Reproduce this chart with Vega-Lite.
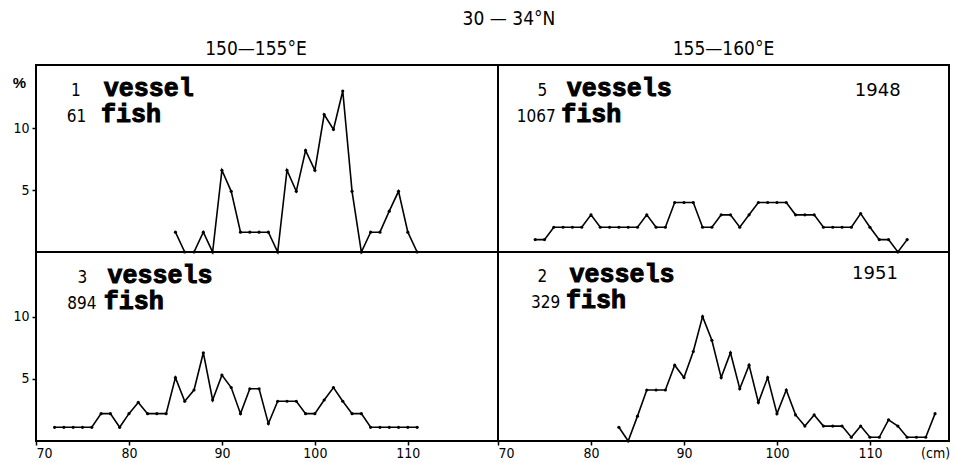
{
  "$schema": "https://vega.github.io/schema/vega-lite/v6.json",
  "background": "white",
  "padding": {"left": 11, "top": 10, "right": 0, "bottom": 0},
  "title": {"text": "30 — 34°N", "font": "DejaVu Sans Condensed", "fontSize": 19, "fontWeight": "normal", "color": "black", "anchor": "middle", "offset": 10, "dx": 28},
  "datasets": {
    "d1": [
      {"len": 85, "pct": 1.6}, {"len": 86, "pct": 0}, {"len": 87, "pct": 0}, {"len": 88, "pct": 1.6}, {"len": 89, "pct": 0},
      {"len": 90, "pct": 6.6}, {"len": 91, "pct": 4.9}, {"len": 92, "pct": 1.6}, {"len": 93, "pct": 1.6}, {"len": 94, "pct": 1.6},
      {"len": 95, "pct": 1.6}, {"len": 96, "pct": 0}, {"len": 97, "pct": 6.6}, {"len": 98, "pct": 4.9}, {"len": 99, "pct": 8.2},
      {"len": 100, "pct": 6.6}, {"len": 101, "pct": 11.1}, {"len": 102, "pct": 9.9}, {"len": 103, "pct": 13.0}, {"len": 104, "pct": 4.9},
      {"len": 105, "pct": 0}, {"len": 106, "pct": 1.6}, {"len": 107, "pct": 1.6}, {"len": 108, "pct": 3.3}, {"len": 109, "pct": 4.9},
      {"len": 110, "pct": 1.6}, {"len": 111, "pct": 0}
    ],
    "d2": [
      {"len": 74, "pct": 1.0}, {"len": 75, "pct": 1.0}, {"len": 76, "pct": 2.0}, {"len": 77, "pct": 2.0}, {"len": 78, "pct": 2.0},
      {"len": 79, "pct": 2.0}, {"len": 80, "pct": 3.0}, {"len": 81, "pct": 2.0}, {"len": 82, "pct": 2.0}, {"len": 83, "pct": 2.0},
      {"len": 84, "pct": 2.0}, {"len": 85, "pct": 2.0}, {"len": 86, "pct": 3.0}, {"len": 87, "pct": 2.0}, {"len": 88, "pct": 2.0},
      {"len": 89, "pct": 4.0}, {"len": 90, "pct": 4.0}, {"len": 91, "pct": 4.0}, {"len": 92, "pct": 2.0}, {"len": 93, "pct": 2.0},
      {"len": 94, "pct": 3.0}, {"len": 95, "pct": 3.0}, {"len": 96, "pct": 2.0}, {"len": 97, "pct": 3.0}, {"len": 98, "pct": 4.0},
      {"len": 99, "pct": 4.0}, {"len": 100, "pct": 4.0}, {"len": 101, "pct": 4.0}, {"len": 102, "pct": 3.0}, {"len": 103, "pct": 3.0},
      {"len": 104, "pct": 3.0}, {"len": 105, "pct": 2.0}, {"len": 106, "pct": 2.0}, {"len": 107, "pct": 2.0}, {"len": 108, "pct": 2.0},
      {"len": 109, "pct": 3.1}, {"len": 110, "pct": 2.0}, {"len": 111, "pct": 1.0}, {"len": 112, "pct": 1.0}, {"len": 113, "pct": 0},
      {"len": 114, "pct": 1.0}
    ],
    "d3": [
      {"len": 72, "pct": 1.1}, {"len": 73, "pct": 1.1}, {"len": 74, "pct": 1.1}, {"len": 75, "pct": 1.1}, {"len": 76, "pct": 1.1},
      {"len": 77, "pct": 2.2}, {"len": 78, "pct": 2.2}, {"len": 79, "pct": 1.1}, {"len": 80, "pct": 2.2}, {"len": 81, "pct": 3.1},
      {"len": 82, "pct": 2.2}, {"len": 83, "pct": 2.2}, {"len": 84, "pct": 2.2}, {"len": 85, "pct": 5.1}, {"len": 86, "pct": 3.2},
      {"len": 87, "pct": 4.1}, {"len": 88, "pct": 7.1}, {"len": 89, "pct": 3.3}, {"len": 90, "pct": 5.3}, {"len": 91, "pct": 4.3},
      {"len": 92, "pct": 2.2}, {"len": 93, "pct": 4.2}, {"len": 94, "pct": 4.2}, {"len": 95, "pct": 1.4}, {"len": 96, "pct": 3.2},
      {"len": 97, "pct": 3.2}, {"len": 98, "pct": 3.2}, {"len": 99, "pct": 2.2}, {"len": 100, "pct": 2.2}, {"len": 101, "pct": 3.3},
      {"len": 102, "pct": 4.3}, {"len": 103, "pct": 3.2}, {"len": 104, "pct": 2.2}, {"len": 105, "pct": 2.2}, {"len": 106, "pct": 1.1},
      {"len": 107, "pct": 1.1}, {"len": 108, "pct": 1.1}, {"len": 109, "pct": 1.1}, {"len": 110, "pct": 1.1}, {"len": 111, "pct": 1.1}
    ],
    "d4": [
      {"len": 83, "pct": 1.1}, {"len": 84, "pct": 0}, {"len": 85, "pct": 2.0}, {"len": 86, "pct": 4.1}, {"len": 87, "pct": 4.1},
      {"len": 88, "pct": 4.1}, {"len": 89, "pct": 6.1}, {"len": 90, "pct": 5.1}, {"len": 91, "pct": 7.2}, {"len": 92, "pct": 10.0},
      {"len": 93, "pct": 8.1}, {"len": 94, "pct": 5.1}, {"len": 95, "pct": 7.1}, {"len": 96, "pct": 4.2}, {"len": 97, "pct": 6.1},
      {"len": 98, "pct": 3.1}, {"len": 99, "pct": 5.1}, {"len": 100, "pct": 2.2}, {"len": 101, "pct": 4.1}, {"len": 102, "pct": 2.1},
      {"len": 103, "pct": 1.2}, {"len": 104, "pct": 2.1}, {"len": 105, "pct": 1.2}, {"len": 106, "pct": 1.2}, {"len": 107, "pct": 1.2},
      {"len": 108, "pct": 0.3}, {"len": 109, "pct": 1.2}, {"len": 110, "pct": 0.3}, {"len": 111, "pct": 0.3}, {"len": 112, "pct": 1.7},
      {"len": 113, "pct": 1.2}, {"len": 114, "pct": 0.3}, {"len": 115, "pct": 0.3}, {"len": 116, "pct": 0.3}, {"len": 117, "pct": 2.2}
    ],
    "l1": [{"n1": "1", "w1": "vessel", "n2": "61", "w2": "fish"}],
    "l2": [{"n1": "5", "w1": "vessels", "n2": "1067", "w2": "fish", "tag": "1948"}],
    "l3": [{"n1": "3", "w1": "vessels", "n2": "894", "w2": "fish"}],
    "l4": [{"n1": "2", "w1": "vessels", "n2": "329", "w2": "fish", "tag": "1951"}]
  },
  "columns": 2,
  "spacing": 0,
  "bounds": "flush",
  "concat": [
    {
      "width": 462, "height": 187,
      "title": {"text": "150—155°E", "font": "DejaVu Sans Condensed", "fontSize": 19, "fontWeight": "normal", "color": "black", "offset": 6, "dx": -11},
      "layer": [
        {"data": {"name": "d1"}, "mark": {"type": "line", "color": "black", "strokeWidth": 1.6},
         "encoding": {"x": {"field": "len", "type": "quantitative", "scale": {"domain": [70, 119.7], "nice": false, "zero": false}, "axis": null},
                      "y": {"field": "pct", "type": "quantitative", "scale": {"domain": [0, 15.1], "nice": false}, "axis": {"values": [5, 10], "title": "%", "titleAngle": 0, "titleX": -17, "titleY": 17, "titleAlign": "center", "titleBaseline": "middle", "titleFontSize": 15, "titleFontWeight": "bold", "titleColor": "black"}}}},
        {"data": {"name": "d1"}, "mark": {"type": "point", "filled": true, "color": "black", "size": 10, "opacity": 1},
         "encoding": {"x": {"field": "len", "type": "quantitative", "axis": null}, "y": {"field": "pct", "type": "quantitative", "axis": {"values": [5, 10], "title": "%", "titleAngle": 0, "titleX": -17, "titleY": 17, "titleAlign": "center", "titleBaseline": "middle", "titleFontSize": 15, "titleFontWeight": "bold", "titleColor": "black"}}}},
        {"data": {"name": "l1"}, "mark": {"type": "text", "align": "right", "baseline": "alphabetic", "font": "DejaVu Sans Condensed", "fontSize": 17, "color": "black"},
         "encoding": {"x": {"datum": 74.8, "type": "quantitative", "axis": null}, "y": {"datum": 12.6, "type": "quantitative", "axis": {"values": [5, 10], "title": "%", "titleAngle": 0, "titleX": -17, "titleY": 17, "titleAlign": "center", "titleBaseline": "middle", "titleFontSize": 15, "titleFontWeight": "bold", "titleColor": "black"}}, "text": {"field": "n1"}}},
        {"data": {"name": "l1"}, "mark": {"type": "text", "align": "left", "baseline": "alphabetic", "font": "Liberation Mono", "fontWeight": "bold", "fontSize": 25, "color": "black", "stroke": "black", "strokeWidth": 1},
         "encoding": {"x": {"datum": 77.3, "type": "quantitative", "axis": null}, "y": {"datum": 12.6, "type": "quantitative", "axis": {"values": [5, 10], "title": "%", "titleAngle": 0, "titleX": -17, "titleY": 17, "titleAlign": "center", "titleBaseline": "middle", "titleFontSize": 15, "titleFontWeight": "bold", "titleColor": "black"}}, "text": {"field": "w1"}}},
        {"data": {"name": "l1"}, "mark": {"type": "text", "align": "right", "baseline": "alphabetic", "font": "DejaVu Sans Condensed", "fontSize": 17, "color": "black"},
         "encoding": {"x": {"datum": 75.4, "type": "quantitative", "axis": null}, "y": {"datum": 10.5, "type": "quantitative", "axis": {"values": [5, 10], "title": "%", "titleAngle": 0, "titleX": -17, "titleY": 17, "titleAlign": "center", "titleBaseline": "middle", "titleFontSize": 15, "titleFontWeight": "bold", "titleColor": "black"}}, "text": {"field": "n2"}}},
        {"data": {"name": "l1"}, "mark": {"type": "text", "align": "left", "baseline": "alphabetic", "font": "Liberation Mono", "fontWeight": "bold", "fontSize": 25, "color": "black", "stroke": "black", "strokeWidth": 1},
         "encoding": {"x": {"datum": 77.0, "type": "quantitative", "axis": null}, "y": {"datum": 10.5, "type": "quantitative", "axis": {"values": [5, 10], "title": "%", "titleAngle": 0, "titleX": -17, "titleY": 17, "titleAlign": "center", "titleBaseline": "middle", "titleFontSize": 15, "titleFontWeight": "bold", "titleColor": "black"}}, "text": {"field": "w2"}}}
      ]
    },
    {
      "width": 451, "height": 187,
      "title": {"text": "155—160°E", "font": "DejaVu Sans Condensed", "fontSize": 19, "fontWeight": "normal", "color": "black", "offset": 6},
      "layer": [
        {"data": {"name": "d2"}, "mark": {"type": "line", "color": "black", "strokeWidth": 1.6},
         "encoding": {"x": {"field": "len", "type": "quantitative", "scale": {"domain": [70, 118.5], "nice": false, "zero": false}, "axis": null},
                      "y": {"field": "pct", "type": "quantitative", "scale": {"domain": [0, 15.1], "nice": false}, "axis": null}}},
        {"data": {"name": "d2"}, "mark": {"type": "point", "filled": true, "color": "black", "size": 10, "opacity": 1},
         "encoding": {"x": {"field": "len", "type": "quantitative", "axis": null}, "y": {"field": "pct", "type": "quantitative", "axis": null}}},
        {"data": {"name": "l2"}, "mark": {"type": "text", "align": "right", "baseline": "alphabetic", "font": "DejaVu Sans Condensed", "fontSize": 17, "color": "black"},
         "encoding": {"x": {"datum": 75.3, "type": "quantitative", "axis": null}, "y": {"datum": 12.6, "type": "quantitative", "axis": null}, "text": {"field": "n1"}}},
        {"data": {"name": "l2"}, "mark": {"type": "text", "align": "left", "baseline": "alphabetic", "font": "Liberation Mono", "fontWeight": "bold", "fontSize": 25, "color": "black", "stroke": "black", "strokeWidth": 1},
         "encoding": {"x": {"datum": 77.4, "type": "quantitative", "axis": null}, "y": {"datum": 12.6, "type": "quantitative", "axis": null}, "text": {"field": "w1"}}},
        {"data": {"name": "l2"}, "mark": {"type": "text", "align": "right", "baseline": "alphabetic", "font": "DejaVu Sans Condensed", "fontSize": 17, "color": "black"},
         "encoding": {"x": {"datum": 76.2, "type": "quantitative", "axis": null}, "y": {"datum": 10.5, "type": "quantitative", "axis": null}, "text": {"field": "n2"}}},
        {"data": {"name": "l2"}, "mark": {"type": "text", "align": "left", "baseline": "alphabetic", "font": "Liberation Mono", "fontWeight": "bold", "fontSize": 25, "color": "black", "stroke": "black", "strokeWidth": 1},
         "encoding": {"x": {"datum": 76.8, "type": "quantitative", "axis": null}, "y": {"datum": 10.5, "type": "quantitative", "axis": null}, "text": {"field": "w2"}}},
        {"data": {"name": "l2"}, "mark": {"type": "text", "align": "right", "baseline": "alphabetic", "font": "DejaVu Sans", "fontSize": 18, "color": "black"},
         "encoding": {"x": {"datum": 113.3, "type": "quantitative", "axis": null}, "y": {"datum": 12.6, "type": "quantitative", "axis": null}, "text": {"field": "tag"}}}
      ]
    },
    {
      "width": 462, "height": 189,
      "layer": [
        {"data": {"name": "d3"}, "mark": {"type": "line", "color": "black", "strokeWidth": 1.6},
         "encoding": {"x": {"field": "len", "type": "quantitative", "scale": {"domain": [70, 119.7], "nice": false, "zero": false}, "axis": {"values": [70, 80, 90, 100, 110], "title": null}},
                      "y": {"field": "pct", "type": "quantitative", "scale": {"domain": [0, 15.2], "nice": false}, "axis": {"values": [5, 10], "title": null}}}},
        {"data": {"name": "d3"}, "mark": {"type": "point", "filled": true, "color": "black", "size": 10, "opacity": 1},
         "encoding": {"x": {"field": "len", "type": "quantitative", "axis": {"values": [70, 80, 90, 100, 110], "title": null}}, "y": {"field": "pct", "type": "quantitative", "axis": {"values": [5, 10], "title": null}}}},
        {"data": {"name": "l3"}, "mark": {"type": "text", "align": "right", "baseline": "alphabetic", "font": "DejaVu Sans Condensed", "fontSize": 17, "color": "black"},
         "encoding": {"x": {"datum": 75.5, "type": "quantitative", "axis": {"values": [70, 80, 90, 100, 110], "title": null}}, "y": {"datum": 12.7, "type": "quantitative", "axis": {"values": [5, 10], "title": null}}, "text": {"field": "n1"}}},
        {"data": {"name": "l3"}, "mark": {"type": "text", "align": "left", "baseline": "alphabetic", "font": "Liberation Mono", "fontWeight": "bold", "fontSize": 25, "color": "black", "stroke": "black", "strokeWidth": 1},
         "encoding": {"x": {"datum": 77.7, "type": "quantitative", "axis": {"values": [70, 80, 90, 100, 110], "title": null}}, "y": {"datum": 12.7, "type": "quantitative", "axis": {"values": [5, 10], "title": null}}, "text": {"field": "w1"}}},
        {"data": {"name": "l3"}, "mark": {"type": "text", "align": "right", "baseline": "alphabetic", "font": "DejaVu Sans Condensed", "fontSize": 17, "color": "black"},
         "encoding": {"x": {"datum": 76.5, "type": "quantitative", "axis": {"values": [70, 80, 90, 100, 110], "title": null}}, "y": {"datum": 10.6, "type": "quantitative", "axis": {"values": [5, 10], "title": null}}, "text": {"field": "n2"}}},
        {"data": {"name": "l3"}, "mark": {"type": "text", "align": "left", "baseline": "alphabetic", "font": "Liberation Mono", "fontWeight": "bold", "fontSize": 25, "color": "black", "stroke": "black", "strokeWidth": 1},
         "encoding": {"x": {"datum": 77.3, "type": "quantitative", "axis": {"values": [70, 80, 90, 100, 110], "title": null}}, "y": {"datum": 10.6, "type": "quantitative", "axis": {"values": [5, 10], "title": null}}, "text": {"field": "w2"}}}
      ]
    },
    {
      "width": 451, "height": 189,
      "layer": [
        {"data": {"name": "d4"}, "mark": {"type": "line", "color": "black", "strokeWidth": 1.6},
         "encoding": {"x": {"field": "len", "type": "quantitative", "scale": {"domain": [70, 118.5], "nice": false, "zero": false}, "axis": {"values": [70, 80, 90, 100, 110, 117], "title": null, "labelExpr": "datum.value == 117 ? '(cm)' : datum.label", "tickOpacity": {"condition": {"test": "datum.value == 117", "value": 0}, "value": 1}}},
                      "y": {"field": "pct", "type": "quantitative", "scale": {"domain": [0, 15.2], "nice": false}, "axis": null}}},
        {"data": {"name": "d4"}, "mark": {"type": "point", "filled": true, "color": "black", "size": 10, "opacity": 1},
         "encoding": {"x": {"field": "len", "type": "quantitative", "axis": {"values": [70, 80, 90, 100, 110, 117], "title": null, "labelExpr": "datum.value == 117 ? '(cm)' : datum.label", "tickOpacity": {"condition": {"test": "datum.value == 117", "value": 0}, "value": 1}}}, "y": {"field": "pct", "type": "quantitative", "axis": null}}},
        {"data": {"name": "l4"}, "mark": {"type": "text", "align": "right", "baseline": "alphabetic", "font": "DejaVu Sans Condensed", "fontSize": 17, "color": "black"},
         "encoding": {"x": {"datum": 75.3, "type": "quantitative", "axis": {"values": [70, 80, 90, 100, 110, 117], "title": null, "labelExpr": "datum.value == 117 ? '(cm)' : datum.label", "tickOpacity": {"condition": {"test": "datum.value == 117", "value": 0}, "value": 1}}}, "y": {"datum": 12.8, "type": "quantitative", "axis": null}, "text": {"field": "n1"}}},
        {"data": {"name": "l4"}, "mark": {"type": "text", "align": "left", "baseline": "alphabetic", "font": "Liberation Mono", "fontWeight": "bold", "fontSize": 25, "color": "black", "stroke": "black", "strokeWidth": 1},
         "encoding": {"x": {"datum": 77.7, "type": "quantitative", "axis": {"values": [70, 80, 90, 100, 110, 117], "title": null, "labelExpr": "datum.value == 117 ? '(cm)' : datum.label", "tickOpacity": {"condition": {"test": "datum.value == 117", "value": 0}, "value": 1}}}, "y": {"datum": 12.8, "type": "quantitative", "axis": null}, "text": {"field": "w1"}}},
        {"data": {"name": "l4"}, "mark": {"type": "text", "align": "right", "baseline": "alphabetic", "font": "DejaVu Sans Condensed", "fontSize": 17, "color": "black"},
         "encoding": {"x": {"datum": 76.7, "type": "quantitative", "axis": {"values": [70, 80, 90, 100, 110, 117], "title": null, "labelExpr": "datum.value == 117 ? '(cm)' : datum.label", "tickOpacity": {"condition": {"test": "datum.value == 117", "value": 0}, "value": 1}}}, "y": {"datum": 10.7, "type": "quantitative", "axis": null}, "text": {"field": "n2"}}},
        {"data": {"name": "l4"}, "mark": {"type": "text", "align": "left", "baseline": "alphabetic", "font": "Liberation Mono", "fontWeight": "bold", "fontSize": 25, "color": "black", "stroke": "black", "strokeWidth": 1},
         "encoding": {"x": {"datum": 77.3, "type": "quantitative", "axis": {"values": [70, 80, 90, 100, 110, 117], "title": null, "labelExpr": "datum.value == 117 ? '(cm)' : datum.label", "tickOpacity": {"condition": {"test": "datum.value == 117", "value": 0}, "value": 1}}}, "y": {"datum": 10.7, "type": "quantitative", "axis": null}, "text": {"field": "w2"}}},
        {"data": {"name": "l4"}, "mark": {"type": "text", "align": "right", "baseline": "alphabetic", "font": "DejaVu Sans", "fontSize": 18, "color": "black"},
         "encoding": {"x": {"datum": 113.0, "type": "quantitative", "axis": {"values": [70, 80, 90, 100, 110, 117], "title": null, "labelExpr": "datum.value == 117 ? '(cm)' : datum.label", "tickOpacity": {"condition": {"test": "datum.value == 117", "value": 0}, "value": 1}}}, "y": {"datum": 13.0, "type": "quantitative", "axis": null}, "text": {"field": "tag"}}}
      ]
    }
  ],
  "config": {
    "view": {"stroke": "black", "strokeWidth": 2},
    "axis": {"grid": false, "domain": false, "ticks": true, "tickColor": "black", "tickSize": 4, "tickWidth": 1.5, "labelColor": "black", "labelFont": "DejaVu Sans Condensed", "labelFontSize": 14},
    "axisX": {"labelPadding": 1},
    "axisY": {"labelPadding": 3}
  }
}
